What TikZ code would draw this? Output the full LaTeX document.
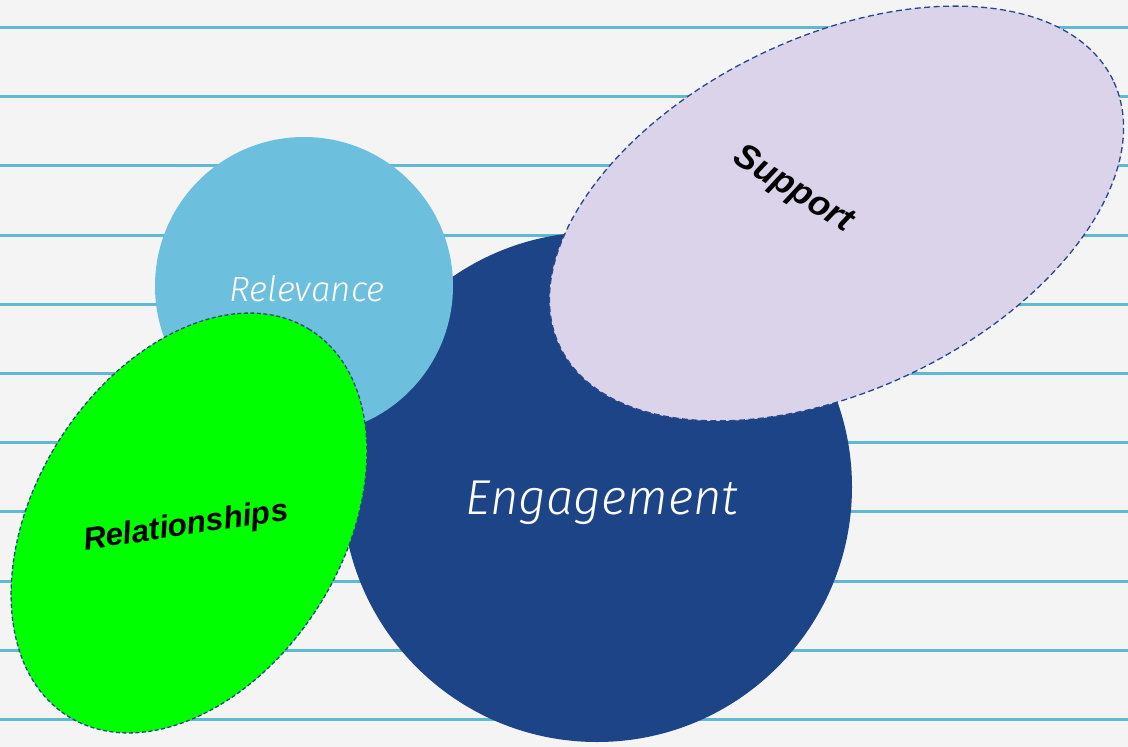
\documentclass[tikz,border=0pt]{standalone}
\usepackage{fontspec}
\setmainfont{Liberation Sans}
\newfontfamily\hand{Fira Sans Light Italic}
\usetikzlibrary{shapes.geometric}
\definecolor{bg}{RGB}{244,244,244}
\definecolor{ruleline}{RGB}{95,185,207}
\definecolor{relblue}{RGB}{108,192,221}
\definecolor{engblue}{RGB}{29,68,135}
\definecolor{relgreen}{RGB}{0,255,0}
\definecolor{suplav}{RGB}{218,211,233}
\definecolor{dashblue}{RGB}{40,70,140}
\tikzset{
  ruled/.style={draw=ruleline, line width=2.2pt},
  bigcircle/.style={circle, inner sep=0pt, draw=none},
  dashedellipse/.style={ellipse, inner sep=0pt, draw=dashblue, line width=1.3pt},
  handtext/.style={text=white, inner sep=0pt},
  boldtext/.style={text=black, inner sep=0pt}
}
\begin{document}
\begin{tikzpicture}[x=1pt,y=-1pt]
\fill[bg] (0,0) rectangle (1128,747);
\useasboundingbox (0,0) rectangle (1128,747);
\foreach \yy in {27.5,96.5,165.5,235.5,304.5,373.5,442.5,511.5,581.5,650.5,719.5} {
  \draw[ruled] (0,\yy) -- (1128,\yy);
}
\node[bigcircle, fill=engblue, minimum size=510pt] (eng) at (597,487) {};
\node[bigcircle, fill=relblue, minimum size=298pt] (rel) at (304,286) {};
\node[dashedellipse, fill=relgreen, minimum width=456pt, minimum height=308pt, rotate=58, dash pattern=on 4pt off 2.5pt] (rsh) at (189,523) {};
\node[dashedellipse, fill=suplav, minimum width=614pt, minimum height=353pt, rotate=25.7, dash pattern=on 6pt off 3.5pt] (sup) at (836.5,213.5) {};
\node[handtext, font=\hand\fontsize{35}{40}\selectfont] (reltext) at (307,289) {Relevance};
\node[handtext, font=\hand\fontsize{49}{56}\selectfont] (engtext) at (602,503) {Engagement};
\node[boldtext, font=\bfseries\itshape\fontsize{31.5}{36}\selectfont, rotate=8.5] (rshtext) at (186,527) {Relationships};
\node[boldtext, font=\bfseries\itshape\fontsize{35}{40}\selectfont, rotate=-32] (suptext) at (793,190) {Support};
\end{tikzpicture}
\end{document}
